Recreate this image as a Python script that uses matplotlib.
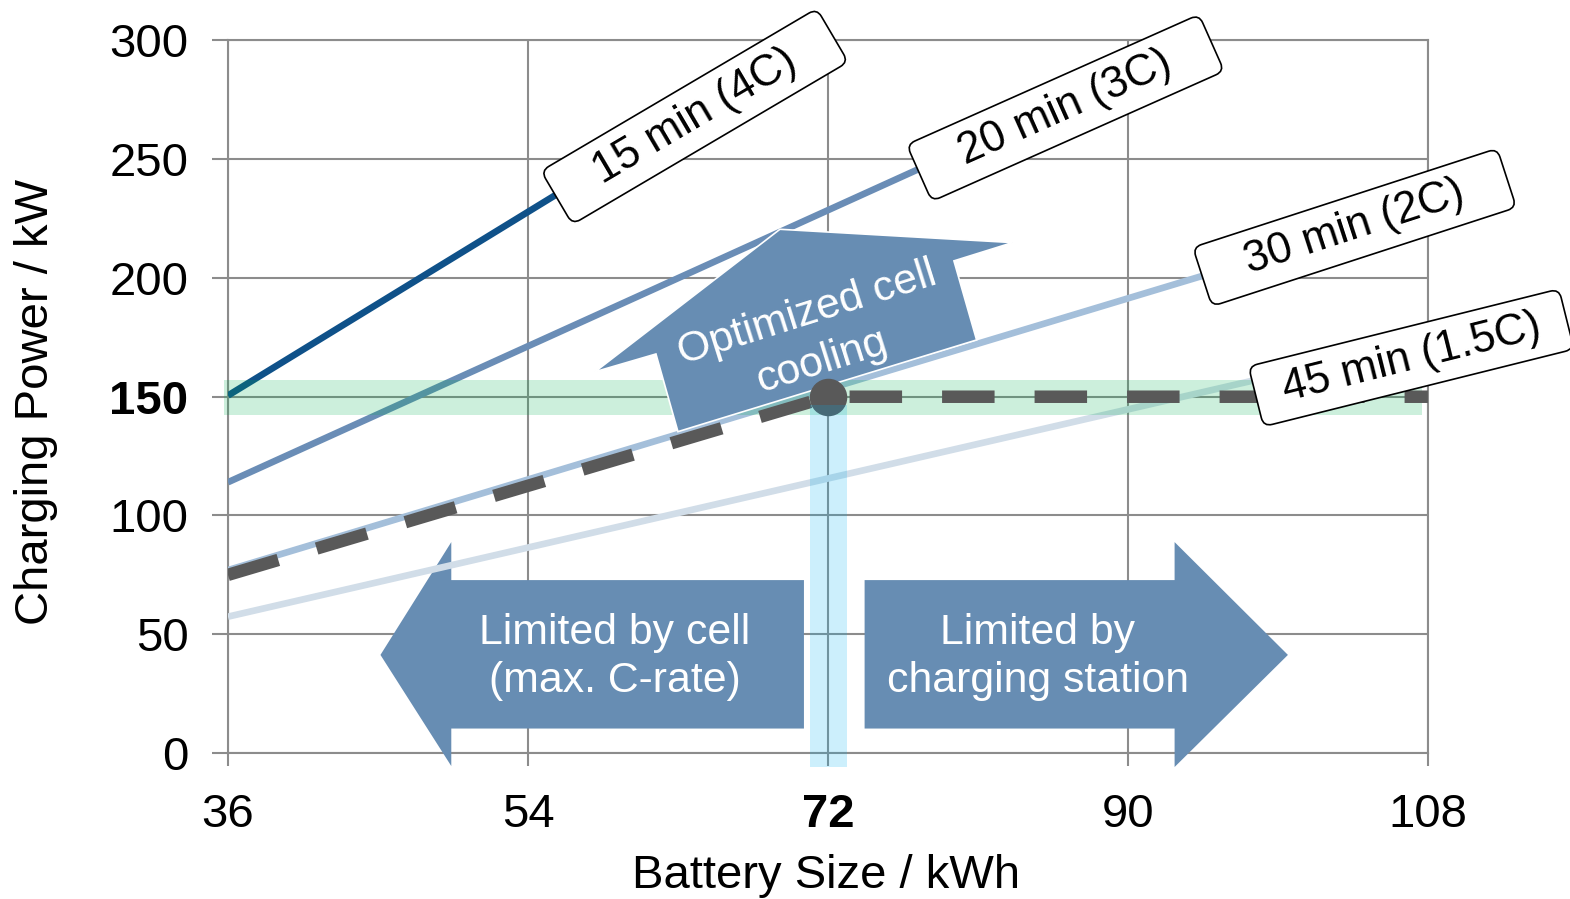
import matplotlib
matplotlib.use("Agg")
import matplotlib.pyplot as plt
from matplotlib.patches import Polygon, FancyBboxPatch
from matplotlib.transforms import Affine2D, ScaledTranslation

plt.rcParams['font.family'] = ['Liberation Sans', 'DejaVu Sans']

# ---- data -------------------------------------------------------------
rate_labels = ["15 min (4C)", "20 min (3C)", "30 min (2C)", "45 min (1.5C)"]

size_4c = [36, 57]
power_4c = [150.5, 240.7]
size_3c = [36, 79]
power_3c = [114.0, 250.8]
size_2c = [36, 95]
power_2c = [77.0, 202.0]
size_15c = [36, 98]
power_15c = [57.4, 157.6]

limit_size = [36, 72, 108]
limit_power = [75, 150, 150]

station_power = 150
design_size = 72

x_ticks = [36, 54, 72, 90, 108]
y_ticks = [0, 50, 100, 150, 200, 250, 300]

# label anchor positions (battery size, power) and text angle
label_size = [64.0, 86.25, 103.6, 107.0]
label_power = [268.0, 271.6, 221.3, 166.4]
label_angle = [30.5, 24.0, 18.0, 14.0]

# ---- style ------------------------------------------------------------
line_colors = ["#0F5189", "#6A8DB6", "#A4BFDA", "#D1DDE8"]
arrow_color = "#678DB3"
grid_color = "#8C8C8C"
limit_color = "#595959"

fig = plt.figure(figsize=(15.7, 8.99), dpi=100)
ax = fig.add_axes([0.1452, 0.1624, 0.7643, 0.7926])
ax.set_xlim(36, 108)
ax.set_ylim(0, 300)

ax.set_xticks(x_ticks, labels=[str(v) for v in x_ticks])
ax.set_yticks(y_ticks, labels=[str(v) for v in y_ticks])
for lab in ax.get_xticklabels():
    if lab.get_text() == str(design_size):
        lab.set_fontweight('bold')
for lab in ax.get_yticklabels():
    if lab.get_text() == str(station_power):
        lab.set_fontweight('bold')

ax.tick_params(axis='x', length=9, width=1.5, color=grid_color, pad=20,
               labelsize=34, direction='out')
ax.tick_params(axis='y', length=11.5, width=1.5, color=grid_color, pad=17,
               labelsize=34, direction='out')
ax.grid(True, color=grid_color, linewidth=1.5, zorder=0)
ax.set_axisbelow(True)
for sp in ax.spines.values():
    sp.set_color(grid_color)
    sp.set_linewidth(1.5)
    sp.set_zorder(0.5)

# ---- block arrows -------------------------------------------------------
cell_arrow = [(45.15, 41.3), (49.4, 88.8), (49.4, 72.8), (70.56, 72.8),
              (70.56, 10.3), (49.4, 10.3), (49.4, -5.5)]
station_arrow = [(74.2, 72.8), (92.8, 72.8), (92.8, 88.8), (99.6, 41.3),
                 (92.8, -5.9), (92.8, 10.3), (74.2, 10.3)]
cooling_arrow = [(58.02, 160.5), (69.12, 220.5), (83.08, 214.9), (79.56, 207.2),
                 (80.92, 173.9), (63.0, 135.3), (61.68, 168.0)]
for pts in (cell_arrow, station_arrow):
    ax.add_patch(Polygon(pts, closed=True, facecolor=arrow_color,
                         edgecolor='none', zorder=1, clip_on=False))
ax.add_patch(Polygon(cooling_arrow, closed=True, facecolor=arrow_color,
                     edgecolor='white', linewidth=1.2, zorder=3.5,
                     clip_on=False))

ax.text(59.2, 40.4, "Limited by cell\n(max. C-rate)", color='white',
        fontsize=30.8, ha='center', va='center', multialignment='center',
        linespacing=1.27, zorder=1.5)
ax.text(84.6, 40.4, "Limited by\ncharging station", color='white',
        fontsize=30.8, ha='center', va='center', multialignment='center',
        linespacing=1.27, zorder=1.5)
ax.text(71.19, 174.9, "Optimized cell\ncooling", color='white',
        fontsize=30.8, ha='center', va='center', multialignment='center',
        rotation=17.5, rotation_mode='anchor', linespacing=1.35, zorder=3.6)

# ---- C-rate lines -------------------------------------------------------
series = [(size_4c, power_4c), (size_3c, power_3c),
          (size_2c, power_2c), (size_15c, power_15c)]
for (xs, ys), c in zip(series, line_colors):
    ax.plot(xs, ys, color=c, linewidth=4.8, solid_capstyle='butt', zorder=2)

# highlighted station power band
ax.fill_between([35.75, 107.65], station_power - 7.7, station_power + 7.0,
                color="#00B050", alpha=0.2, linewidth=0, zorder=3,
                clip_on=False)

# resulting charging power limit
ax.plot(limit_size, limit_power, color=limit_color, linewidth=9,
        dashes=(4.2, 3.2), dash_capstyle='butt', zorder=4)
ax.plot([design_size], [station_power], marker='o', markersize=26,
        color=limit_color, zorder=4.5)

# highlighted design battery size band
ax.fill_between([70.95, 73.15], -5.9, station_power - 3.3,
                color="#00B0F0", alpha=0.2, linewidth=0, zorder=5,
                clip_on=False)

# ---- rotated rate labels ----------------------------------------------
box_w, box_h = 3.2, 0.62
for text, e, p, ang in zip(rate_labels, label_size, label_power, label_angle):
    tr = (Affine2D().rotate_deg(ang) + fig.dpi_scale_trans
          + ScaledTranslation(e, p, ax.transData))
    box = FancyBboxPatch((-box_w / 2, -box_h / 2), box_w, box_h,
                         boxstyle="round,pad=0,rounding_size=0.09",
                         facecolor='white', edgecolor='black', linewidth=1.2,
                         transform=tr, zorder=6, clip_on=False)
    ax.add_patch(box)
    ax.text(e, p, text, fontsize=31.5, ha='center', va='center',
            rotation=ang, rotation_mode='anchor', zorder=7)

# ---- axis titles --------------------------------------------------------
fig.text(826 / 1570, 1 - 888 / 899, "Battery Size / kWh", fontsize=34,
         ha='center', va='baseline')
fig.text(36.5 / 1570, 1 - 401.5 / 899, "Charging Power / kW", fontsize=34,
         ha='center', va='center', rotation=90)

fig.savefig("out.png", dpi=100)
